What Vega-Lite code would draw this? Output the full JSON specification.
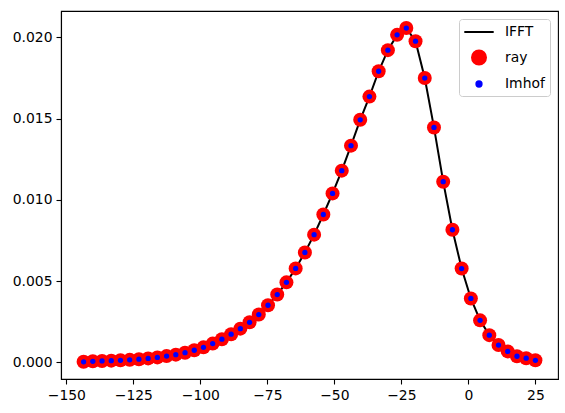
{
  "$schema": "https://vega.github.io/schema/vega-lite/v6.json",
  "description": "IFFT vs ray vs Imhof density",
  "width": 497,
  "height": 368,
  "autosize": {"type": "none"},
  "padding": {"left": 61, "top": 11, "right": 7, "bottom": 34},
  "data": {
    "values": [
      {"x": -143.56, "ifft": 0.00003, "ray": 0.00003, "imhof": 0.00003},
      {"x": -140.12, "ifft": 0.00006, "ray": 0.00006, "imhof": 0.00006},
      {"x": -136.68, "ifft": 0.00008, "ray": 0.00008, "imhof": 0.00008},
      {"x": -133.24, "ifft": 0.0001, "ray": 0.0001, "imhof": 0.0001},
      {"x": -129.8, "ifft": 0.00012, "ray": 0.00012, "imhof": 0.00012},
      {"x": -126.36, "ifft": 0.00015, "ray": 0.00015, "imhof": 0.00015},
      {"x": -122.92, "ifft": 0.00019, "ray": 0.00019, "imhof": 0.00019},
      {"x": -119.48, "ifft": 0.00024, "ray": 0.00024, "imhof": 0.00024},
      {"x": -116.04, "ifft": 0.0003, "ray": 0.0003, "imhof": 0.0003},
      {"x": -112.6, "ifft": 0.00038, "ray": 0.00038, "imhof": 0.00038},
      {"x": -109.16, "ifft": 0.00047, "ray": 0.00047, "imhof": 0.00047},
      {"x": -105.72, "ifft": 0.00059, "ray": 0.00059, "imhof": 0.00059},
      {"x": -102.28, "ifft": 0.00074, "ray": 0.00074, "imhof": 0.00074},
      {"x": -98.84, "ifft": 0.00092, "ray": 0.00092, "imhof": 0.00092},
      {"x": -95.4, "ifft": 0.00115, "ray": 0.00115, "imhof": 0.00115},
      {"x": -91.96, "ifft": 0.00142, "ray": 0.00142, "imhof": 0.00142},
      {"x": -88.52, "ifft": 0.00173, "ray": 0.00173, "imhof": 0.00173},
      {"x": -85.08, "ifft": 0.00207, "ray": 0.00207, "imhof": 0.00207},
      {"x": -81.64, "ifft": 0.00246, "ray": 0.00246, "imhof": 0.00246},
      {"x": -78.2, "ifft": 0.00294, "ray": 0.00294, "imhof": 0.00294},
      {"x": -74.76, "ifft": 0.00351, "ray": 0.00351, "imhof": 0.00351},
      {"x": -71.32, "ifft": 0.00417, "ray": 0.00417, "imhof": 0.00417},
      {"x": -67.88, "ifft": 0.00492, "ray": 0.00492, "imhof": 0.00492},
      {"x": -64.44, "ifft": 0.00578, "ray": 0.00578, "imhof": 0.00578},
      {"x": -61.0, "ifft": 0.00676, "ray": 0.00676, "imhof": 0.00676},
      {"x": -57.56, "ifft": 0.00786, "ray": 0.00786, "imhof": 0.00786},
      {"x": -54.12, "ifft": 0.0091, "ray": 0.0091, "imhof": 0.0091},
      {"x": -50.68, "ifft": 0.0104, "ray": 0.0104, "imhof": 0.0104},
      {"x": -47.24, "ifft": 0.0118, "ray": 0.0118, "imhof": 0.0118},
      {"x": -43.8, "ifft": 0.01334, "ray": 0.01334, "imhof": 0.01334},
      {"x": -40.36, "ifft": 0.01493, "ray": 0.01493, "imhof": 0.01493},
      {"x": -36.92, "ifft": 0.01636, "ray": 0.01636, "imhof": 0.01636},
      {"x": -33.48, "ifft": 0.01792, "ray": 0.01792, "imhof": 0.01792},
      {"x": -30.04, "ifft": 0.01922, "ray": 0.01922, "imhof": 0.01922},
      {"x": -26.6, "ifft": 0.02016, "ray": 0.02016, "imhof": 0.02016},
      {"x": -23.16, "ifft": 0.02058, "ray": 0.02058, "imhof": 0.02058},
      {"x": -19.72, "ifft": 0.01977, "ray": 0.01977, "imhof": 0.01977},
      {"x": -16.28, "ifft": 0.0175, "ray": 0.0175, "imhof": 0.0175},
      {"x": -12.84, "ifft": 0.01446, "ray": 0.01446, "imhof": 0.01446},
      {"x": -9.4, "ifft": 0.01112, "ray": 0.01112, "imhof": 0.01112},
      {"x": -5.96, "ifft": 0.00816, "ray": 0.00816, "imhof": 0.00816},
      {"x": -2.52, "ifft": 0.00577, "ray": 0.00577, "imhof": 0.00577},
      {"x": 0.92, "ifft": 0.00393, "ray": 0.00393, "imhof": 0.00393},
      {"x": 4.36, "ifft": 0.00258, "ray": 0.00258, "imhof": 0.00258},
      {"x": 7.8, "ifft": 0.00167, "ray": 0.00167, "imhof": 0.00167},
      {"x": 11.24, "ifft": 0.00106, "ray": 0.00106, "imhof": 0.00106},
      {"x": 14.68, "ifft": 0.00067, "ray": 0.00067, "imhof": 0.00067},
      {"x": 18.12, "ifft": 0.00037, "ray": 0.00037, "imhof": 0.00037},
      {"x": 21.56, "ifft": 0.00025, "ray": 0.00025, "imhof": 0.00025},
      {"x": 25.0, "ifft": 0.00012, "ray": 0.00012, "imhof": 0.00012}
    ]
  },
  "encoding": {
    "x": {
      "field": "x",
      "type": "quantitative",
      "title": null,
      "scale": {"domain": [-151.99, 33.43], "nice": false, "zero": false},
      "axis": {"values": [-150, -125, -100, -75, -50, -25, 0, 25], "format": "d"}
    }
  },
  "layer": [
    {
      "mark": {"type": "line", "strokeWidth": 2},
      "encoding": {
        "y": {
          "field": "ifft",
          "type": "quantitative",
          "title": null,
          "scale": {"domain": [-0.00103, 0.02163], "nice": false, "zero": false},
          "axis": {"values": [0, 0.005, 0.01, 0.015, 0.02], "format": ".3f"}
        },
        "color": {
          "datum": "IFFT",
          "type": "nominal",
          "scale": {"domain": ["IFFT", "ray", "Imhof"], "range": ["#000000", "#ff0000", "#0000ff"]},
          "legend": {
            "title": null,
            "orient": "top-right",
            "offset": 8,
            "padding": 5,
            "rowPadding": 7.5,
            "symbolSize": 196,
            "symbolOffset": 7,
            "labelOffset": 18,
            "labelFont": "DejaVu Sans",
            "labelFontSize": 13.9,
            "labelColor": "#000000",
            "strokeColor": "#cccccc",
            "fillColor": "rgba(255,255,255,0.8)",
            "cornerRadius": 3,
            "encode": {
              "symbols": {
                "update": {
                  "shape": {"signal": "datum.value === 'IFFT' ? 'M-2.1,0H2.1' : 'circle'"},
                  "size": {"signal": "datum.value === 'Imhof' ? 28 : 196"},
                  "fill": {"signal": "datum.value === 'IFFT' ? 'transparent' : (datum.value === 'ray' ? '#ff0000' : '#0000ff')"},
                  "stroke": {"signal": "datum.value === 'IFFT' ? '#000000' : 'transparent'"},
                  "strokeWidth": {"value": 2},
                  "opacity": {"value": 1},
                  "fillOpacity": {"value": 1}
                }
              }
            }
          }
        }
      }
    },
    {
      "mark": {"type": "point", "filled": true, "size": 196, "opacity": 1},
      "encoding": {
        "y": {"field": "ray", "type": "quantitative"},
        "color": {"datum": "ray", "type": "nominal"}
      }
    },
    {
      "mark": {"type": "point", "filled": true, "size": 28, "opacity": 1},
      "encoding": {
        "y": {"field": "imhof", "type": "quantitative"},
        "color": {"datum": "Imhof", "type": "nominal"}
      }
    }
  ],
  "config": {
    "background": "#ffffff",
    "view": {"stroke": "#000000", "strokeWidth": 1.1},
    "axis": {
      "grid": false,
      "domainColor": "#000000",
      "domainWidth": 1.1,
      "tickColor": "#000000",
      "tickWidth": 1.1,
      "tickSize": 5,
      "labelPadding": 4,
      "labelFont": "DejaVu Sans",
      "labelFontSize": 13.9,
      "labelColor": "#000000",
      "labelFlush": false,
      "labelOverlap": false
    }
  }
}
